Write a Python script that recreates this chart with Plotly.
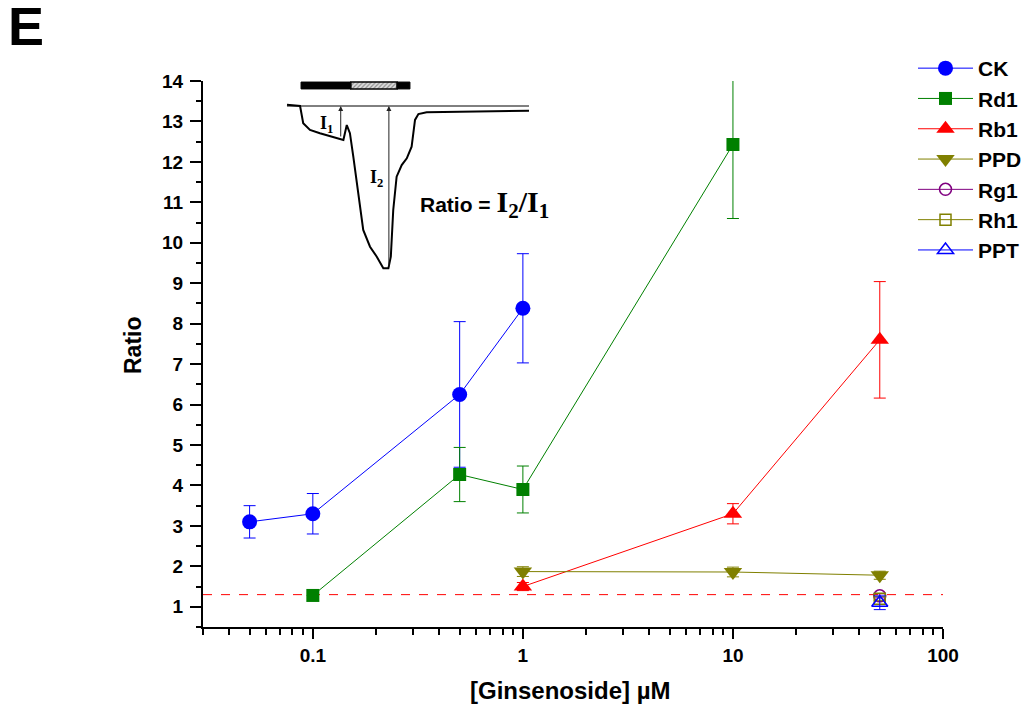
import plotly.graph_objects as go
import math

# ---------------- data ----------------
ck_x = [0.05, 0.1, 0.5, 1]
ck_y = [3.1, 3.3, 6.25, 8.38]
ck_err = [0.4, 0.5, 1.8, 1.35]

rd1_x = [0.1, 0.5, 1, 10]
rd1_y = [1.28, 4.27, 3.9, 12.43]
rd1_err = [0.0, 0.67, 0.58, 1.83]

rb1_x = [1, 10, 50]
rb1_y = [1.5, 3.3, 7.6]
rb1_err = [0.1, 0.25, 1.44]

ppd_x = [1, 10, 50]
ppd_y = [1.87, 1.86, 1.78]
ppd_err = [0.12, 0.12, 0.1]

rg1_x = [50]
rg1_y = [1.27]
rg1_err = [0.05]

rh1_x = [50]
rh1_y = [1.2]
rh1_err = [0.05]

ppt_x = [50]
ppt_y = [1.1]
ppt_err = [0.17]

control_ratio = 1.3

x_tick_vals = [0.1, 1, 10, 100]
x_tick_text = ["0.1", "1", "10", "100"]

# inset (schematic current trace, arbitrary units)
inset_t = [0, 5.4, 6.7, 9.5, 13.6, 19.1, 23.3, 24.7, 26.0, 27.4, 29.5, 31.5, 34.3,
           37.1, 39.8, 41.9, 42.9, 43.9, 45.3, 47.4, 49.5, 51.5, 52.9, 54.3, 57.7, 100]
inset_i = [0.8, 0.0, -10.5, -14.6, -16.6, -18.7, -20.7, -11.6, -16.6, -30.9, -55.3,
           -75.6, -85.8, -91.9, -99.0, -99.0, -91.9, -63.4, -43.1, -36.0, -31.9,
           -24.8, -8.5, -4.9, -3.8, -2.9]
inset_i1 = -19.5
inset_i1_t = 22.2
inset_i2 = -98.8
inset_i2_t = 42.1
bar_segments = [(5.8, 26.4, "solid"), (26.4, 45.5, "hatch"), (45.5, 50.8, "solid")]

FONT = "Arial, Liberation Sans, sans-serif"
SERIF = "Times New Roman, Liberation Serif, serif"

fig = go.Figure()

def add_series(name, xs, ys, errs, color, symbol, size, open_marker=False):
    if open_marker:
        marker = dict(symbol=symbol + "-open", size=size, color=color,
                      line=dict(color=color, width=1.5))
    else:
        marker = dict(symbol=symbol, size=size, color=color, line=dict(width=0))
    fig.add_trace(go.Scatter(
        x=xs, y=ys, name=name, mode="lines+markers",
        line=dict(color=color, width=1),
        marker=marker,
        error_y=dict(type="data", array=errs, visible=True, color=color,
                     thickness=1, width=6),
        legendgroup=name,
    ))

add_series("CK", ck_x, ck_y, ck_err, "#0000FF", "circle", 15)
add_series("Rd1", rd1_x, rd1_y, rd1_err, "#008000", "square", 13)
add_series("Rb1", rb1_x, rb1_y, rb1_err, "#FF0000", "triangle-up", 16)
add_series("PPD", ppd_x, ppd_y, ppd_err, "#808000", "triangle-down", 16)
add_series("Rg1", rg1_x, rg1_y, rg1_err, "#800080", "circle", 12, open_marker=True)
add_series("Rh1", rh1_x, rh1_y, rh1_err, "#808000", "square", 11, open_marker=True)
add_series("PPT", ppt_x, ppt_y, ppt_err, "#0000FF", "triangle-up", 14, open_marker=True)

# ---------------- inset ----------------
fig.add_trace(go.Scatter(x=[0, 100], y=[0, 0], mode="lines", xaxis="x2", yaxis="y2",
                         line=dict(color="black", width=1), showlegend=False, hoverinfo="skip"))
fig.add_trace(go.Scatter(x=inset_t, y=inset_i, mode="lines", xaxis="x2", yaxis="y2",
                         line=dict(color="black", width=2), showlegend=False, hoverinfo="skip"))
for (a, b, kind) in bar_segments:
    if kind == "solid":
        mk = dict(color="black", line=dict(color="black", width=1))
    else:
        mk = dict(color="white", line=dict(color="black", width=1.5),
                  pattern=dict(shape="/", fgcolor="#444", bgcolor="#ddd", size=3, solidity=0.4))
    fig.add_trace(go.Bar(x=[b - a], base=[a], y=[12.5], width=4.2, orientation="h",
                         xaxis="x2", yaxis="y2", marker=mk, showlegend=False, hoverinfo="skip"))

for (tt, depth) in [(inset_i1_t, inset_i1), (inset_i2_t, inset_i2)]:
    fig.add_annotation(x=tt, y=0, ax=tt, ay=depth, xref="x2", yref="y2",
                       axref="x2", ayref="y2", text="", showarrow=True,
                       arrowhead=2, arrowsize=1, arrowwidth=1, arrowcolor="#222")

fig.add_annotation(x=16.5, y=-11, xref="x2", yref="y2", showarrow=False,
                   text="I<sub>1</sub>", font=dict(family=SERIF, size=18, color="black", weight="bold"))
fig.add_annotation(x=37.0, y=-44, xref="x2", yref="y2", showarrow=False,
                   text="I<sub>2</sub>", font=dict(family=SERIF, size=18, color="black", weight="bold"))
fig.add_annotation(x=54, y=-60, xref="x2", yref="y2", showarrow=False, xanchor="left",
                   text='Ratio = <span style="font-family:Times New Roman, Liberation Serif, serif;font-size:30px">I<sub>2</sub>/I<sub>1</sub></span>',
                   font=dict(family=FONT, size=21, color="black", weight="bold"))

# The page adds an 8px body margin: work in screenshot pixel coordinates and convert.
OFF = 8
W, H = 1030, 707
L, R, T, B = 203 - OFF, W - (943 - OFF), 81 - OFF, H - (627 - OFF)
pw = W - L - R
ph = H - T - B

def px(ximg):
    return (ximg - OFF - L) / pw

def py(yimg):
    return (H - B - (yimg - OFF)) / ph

# panel label
fig.add_annotation(x=px(6), y=py(-6), xref="paper", yref="paper", showarrow=False,
                   text="E", xanchor="left", yanchor="top",
                   font=dict(family=FONT, size=54, color="black", weight="bold"))
# axis titles
fig.add_annotation(x=px(570), y=py(690), xref="paper", yref="paper", showarrow=False,
                   text="[Ginsenoside] µM", xanchor="center", yanchor="middle",
                   font=dict(family=FONT, size=24, color="black", weight="bold"))
fig.add_annotation(x=px(133), y=py(345), xref="paper", yref="paper", showarrow=False,
                   text="Ratio", textangle=-90, xanchor="center", yanchor="middle",
                   font=dict(family=FONT, size=23, color="black", weight="bold"))

fig.add_shape(type="line", xref="paper", yref="y", x0=0, x1=1, y0=control_ratio, y1=control_ratio,
              line=dict(color="#FF0000", width=1, dash="dash"), layer="below")

minor_vals = []
for d in [0.01, 0.1, 1, 10]:
    for m in range(2, 10):
        v = m * d
        if 0.03 <= v <= 100:
            minor_vals.append(v)

# inset axes map (screenshot pixels): x = 287 + 2.42 t, y = 106 - 1.64 I
x2_range = [(203 - 287) / 2.42, (943 - 287) / 2.42]
y2_range = [-(627 - 106) / 1.64, -(81 - 106) / 1.64]

fig.update_layout(
    width=W, height=H,
    margin=dict(l=L, r=R, t=T, b=B, pad=0, autoexpand=False),
    paper_bgcolor="white", plot_bgcolor="white",
    barmode="overlay",
    font=dict(family=FONT, color="black", weight="bold"),
    xaxis=dict(type="log", range=[math.log10(0.03), 2], tickvals=x_tick_vals, ticktext=x_tick_text,
               ticks="outside", ticklen=10, tickwidth=2, tickcolor="black",
               showline=True, linewidth=2, linecolor="black", mirror=False,
               showgrid=False, zeroline=False, automargin=False,
               tickfont=dict(size=19, family=FONT, weight="bold"),
               minor=dict(tickvals=minor_vals, ticks="outside", ticklen=6, tickwidth=2,
                          tickcolor="black", showgrid=False)),
    yaxis=dict(range=[0.5, 14], dtick=1, tick0=1,
               ticks="outside", ticklen=11, tickwidth=2, tickcolor="black",
               showline=True, linewidth=2, linecolor="black", mirror=False,
               showgrid=False, zeroline=False, automargin=False,
               ticklabelstandoff=3,
               tickfont=dict(size=19, family=FONT, weight="bold"),
               minor=dict(dtick=0.5, ticks="outside", ticklen=5, tickwidth=2,
                          tickcolor="black", showgrid=False)),
    xaxis2=dict(overlaying="x", anchor="y2", range=x2_range, visible=False, fixedrange=True),
    yaxis2=dict(overlaying="y", anchor="x2", range=y2_range, visible=False, fixedrange=True),
    legend=dict(xref="container", yref="container", x=(913 - OFF) / W, y=1 - (48 - OFF) / H,
                xanchor="left", yanchor="top",
                bgcolor="rgba(0,0,0,0)", borderwidth=0, tracegroupgap=0, itemwidth=55,
                font=dict(size=21, family=FONT, weight="bold")),
)

fig.write_html("out.html")
